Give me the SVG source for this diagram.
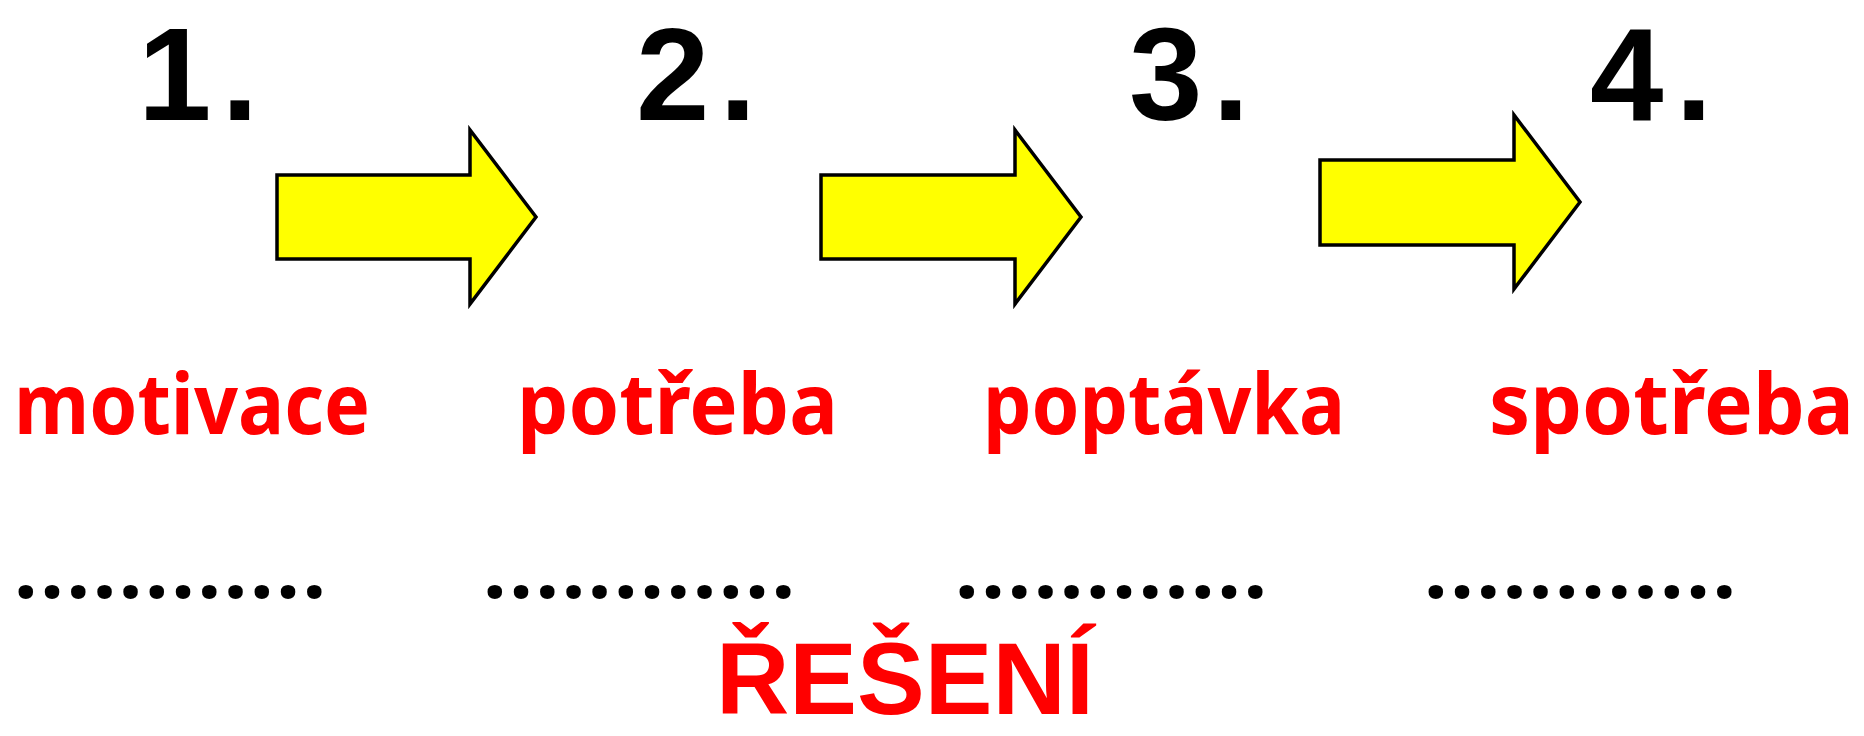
<svg xmlns="http://www.w3.org/2000/svg" width="1864" height="736" viewBox="0 0 1864 736">
<style>
.num{font-family:"Liberation Sans",Arial,sans-serif;font-weight:700;font-size:132px;fill:#000}
.word{font-family:"Noto Sans","DejaVu Sans",sans-serif;font-weight:700;font-size:84px;fill:#ff0000}
.dots{font-family:"Noto Sans","DejaVu Sans",sans-serif;font-weight:700;font-size:84px;fill:#000}
.title{font-family:"Liberation Sans",Arial,sans-serif;font-weight:700;font-size:102px;fill:#ff0000}
.arrow{fill:#ffff00;stroke:#000;stroke-width:3.5;stroke-linejoin:miter}
</style>
<rect width="1864" height="736" fill="#fff"/>
<g id="step1"><text class="num" x="138" y="119.5">1<tspan dx="10">.</tspan></text></g>
<g id="step2"><text class="num" x="636" y="119.5">2<tspan dx="10">.</tspan></text></g>
<g id="step3"><text class="num" x="1129" y="119.5">3<tspan dx="10">.</tspan></text></g>
<g id="step4"><text class="num" x="1590" y="119.5">4<tspan dx="12">.</tspan></text></g>
<g id="connectors">
<path class="arrow" d="M277,175 H470 V130 L536,217 L470,304 V259 H277 Z"/>
<path class="arrow" d="M821,175 H1015 V130 L1081,217 L1015,304 V259 H821 Z"/>
<path class="arrow" d="M1320,160 H1514 V115 L1580,202 L1514,289 V245 H1320 Z"/>
</g>
<g id="word1"><text class="word" x="14" y="434" textLength="356" lengthAdjust="spacingAndGlyphs">motivace</text></g>
<g id="word2"><text class="word" x="517" y="434" textLength="321" lengthAdjust="spacingAndGlyphs">potřeba</text></g>
<g id="word3"><text class="word" x="983" y="434" textLength="362" lengthAdjust="spacingAndGlyphs">poptávka</text></g>
<g id="word4"><text class="word" x="1489" y="434" textLength="365" lengthAdjust="spacingAndGlyphs">spotřeba</text></g>
<g id="blank1"><text class="dots" x="14" y="598" textLength="312" lengthAdjust="spacing">............</text></g>
<g id="blank2"><text class="dots" x="483" y="598" textLength="312" lengthAdjust="spacing">............</text></g>
<g id="blank3"><text class="dots" x="955" y="598" textLength="312" lengthAdjust="spacing">............</text></g>
<g id="blank4"><text class="dots" x="1424" y="598" textLength="312" lengthAdjust="spacing">............</text></g>
<g id="solution"><text class="title" x="716" y="714" textLength="378" lengthAdjust="spacingAndGlyphs">ŘEŠENÍ</text></g>
</svg>
